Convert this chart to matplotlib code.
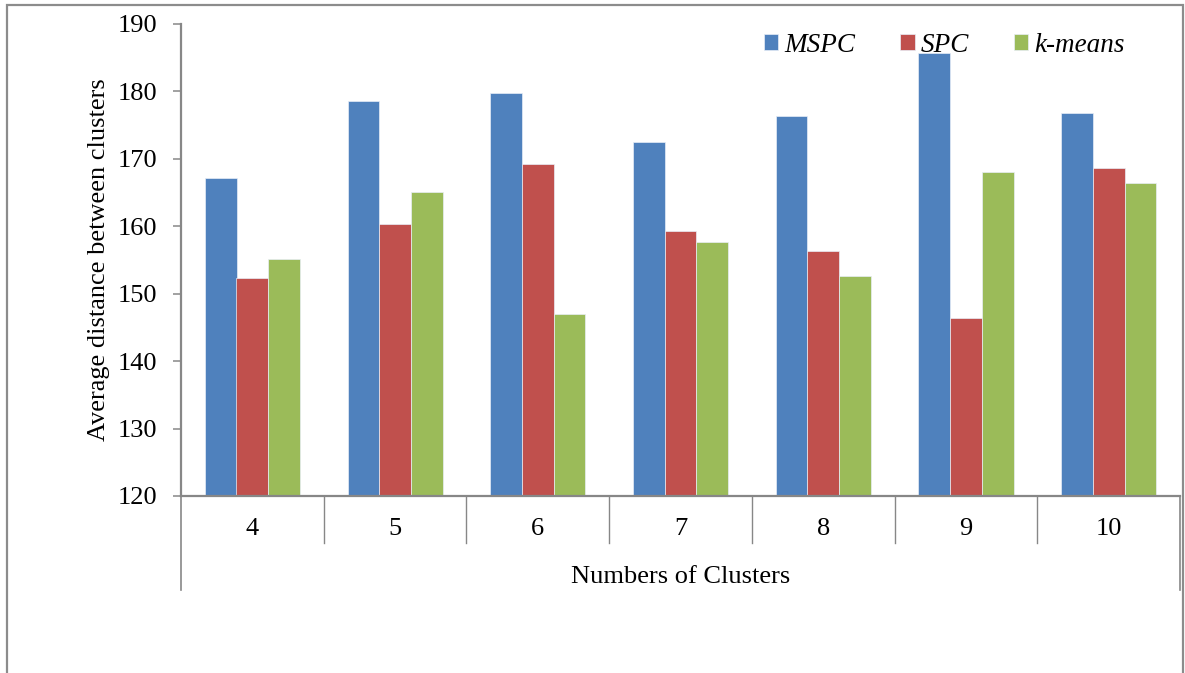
import matplotlib
matplotlib.use("Agg")
import numpy as np
import matplotlib.pyplot as plt
from matplotlib.patches import Rectangle

# Average distance between clusters per method
clusters = ["4", "5", "6", "7", "8", "9", "10"]
mspc = [167.1, 178.6, 179.7, 172.5, 176.3, 185.7, 176.8]
spc = [152.3, 160.3, 169.2, 159.3, 156.3, 146.4, 168.6]
kmeans = [155.2, 165.1, 147.0, 157.7, 152.6, 168.0, 166.4]
series_names = ["MSPC", "SPC", "k-means"]
yticks = [120, 130, 140, 150, 160, 170, 180, 190]

colors = ["#4F81BD", "#C0504D", "#9BBB59"]
GRAY = "#878787"

plt.rcParams["font.family"] = ["Liberation Serif", "DejaVu Serif"]
plt.rcParams["font.size"] = 19

fig = plt.figure(figsize=(11.85, 6.73), dpi=100)
ax = fig.add_axes([181 / 1185, 1 - 496 / 673, 999 / 1185, 472 / 673])

x = np.arange(len(clusters))
w = 1 / 4.5
for i, (vals, name) in enumerate(zip([mspc, spc, kmeans], series_names)):
    ax.bar(x + (i - 1) * w, np.array(vals) - 120, bottom=120, width=w,
           color=colors[i], edgecolor="#e8eef7", linewidth=0.5, label=name,
           zorder=2)

ax.set_xlim(-0.5, len(clusters) - 0.5)
ax.set_ylim(120, 190)
ax.set_yticks(yticks)
ax.set_xticks(x)
ax.set_xticklabels(clusters)
ax.tick_params(axis="y", direction="out", length=5.8, width=1.1, color=GRAY,
               pad=11)
ax.tick_params(axis="x", length=0, pad=16)

for side in ["top", "right"]:
    ax.spines[side].set_visible(False)
for side in ["left", "bottom"]:
    ax.spines[side].set_color(GRAY)
    ax.spines[side].set_linewidth(1.6)

# extended category table lines below the axis
trans = ax.get_xaxis_transform()
low = (496 - 590) / 472
mid = (496 - 543) / 472
for xb in [-0.5, len(clusters) - 0.5]:
    ax.plot([xb, xb], [0, low], transform=trans, color=GRAY, lw=1.2,
            clip_on=False)
for xb in np.arange(0.5, len(clusters) - 0.5, 1):
    ax.plot([xb, xb], [0, mid], transform=trans, color=GRAY, lw=1.0,
            clip_on=False)

ax.set_xlabel("Numbers of Clusters", va="center")
ax.xaxis.set_label_coords(0.5, (496 - 577) / 472)
ax.set_ylabel("Average distance between clusters", va="center")
ax.yaxis.set_label_coords((99 - 181) / 999, 0.5)

leg = ax.legend(ncol=3, frameon=False, loc="center left",
                bbox_to_anchor=((764 - 181) / 999, (496 - 45) / 472),
                borderaxespad=0, borderpad=0, handlelength=0.53,
                handleheight=0.53, handletextpad=0.22, columnspacing=1.66,
                prop={"style": "italic", "size": 19.5})

# outer chart frame
fig.patches.append(Rectangle((7 / 1185, -0.05), (1183 - 7) / 1185,
                             1 - 5 / 673 + 0.05, transform=fig.transFigure,
                             fill=False, edgecolor="#8c8c8c", lw=1.6))

fig.savefig("out.png", dpi=100)
